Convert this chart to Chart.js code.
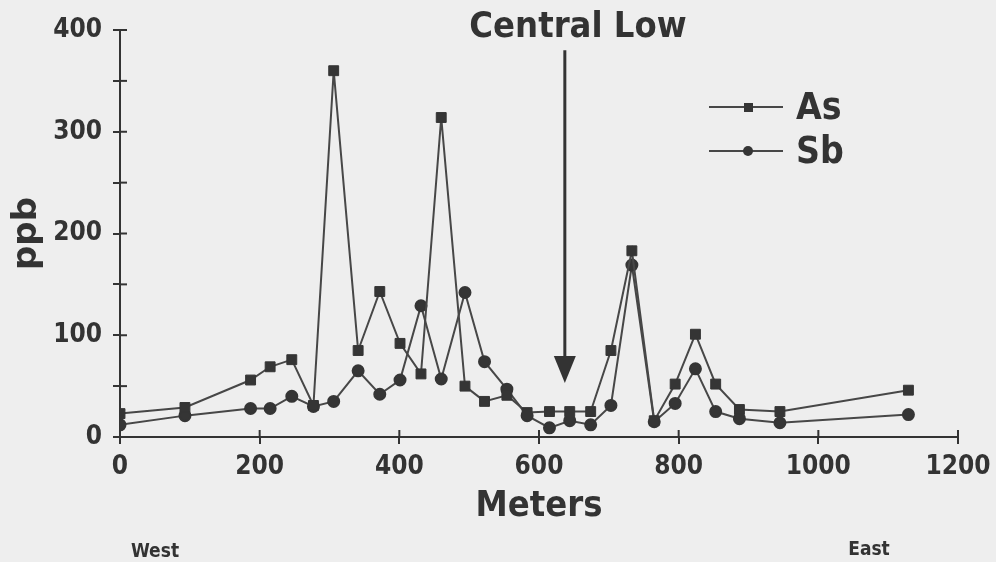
<!DOCTYPE html>
<html>
<head>
<meta charset="utf-8">
<script src="https://cdn.jsdelivr.net/npm/chart.js@4/dist/chart.umd.min.js"></script>
<style>
  body { margin: 0; background: #eeeeee; }
  canvas { display: block; }
</style>
</head>
<body>
<canvas id="canvas1" width="996" height="562"></canvas>
<script>
// positions along the line (m)
const meters = [0, 93, 187, 215, 246, 277, 306, 341, 372, 401, 431, 460, 494, 522, 554, 583, 615, 644, 674, 703, 733, 765, 795, 824, 853, 887, 945, 1129];
// ppb values
const asValues = [23, 29, 56, 69, 76, 31, 360, 85, 143, 92, 62, 314, 50, 35, 41, 24, 25, 25, 25, 85, 183, 16, 52, 101, 52, 27, 25, 46];
const sbValues = [12, 21, 28, 28, 40, 30, 35, 65, 42, 56, 129, 57, 142, 74, 47, 21, 9, 16, 12, 31, 169, 15, 33, 67, 25, 18, 14, 22];
const seriesNames = ['As', 'Sb'];

const ink = '#333333';
const FONT = '"DejaVu Sans Condensed", "DejaVu Sans", sans-serif';

function toPoints(values) {
    return meters.map((m, i) => ({ x: m, y: values[i] }));
}

// ticks crossing into the plot + annotation + legend
const extras = {
    id: 'extras',
    afterDraw(chart) {
        const ctx = chart.ctx;
        const xs = chart.scales.x;
        const ys = chart.scales.y;
        ctx.save();
        ctx.strokeStyle = ink;
        ctx.lineWidth = 2;
        // inner tick stubs
        ys.ticks.forEach(t => {
            let py = ys.getPixelForValue(t.value);
            ctx.beginPath();
            ctx.moveTo(xs.left, py);
            ctx.lineTo(xs.left + 7, py);
            ctx.stroke();
        });
        xs.ticks.forEach(t => {
            let px = xs.getPixelForValue(t.value);
            ctx.beginPath();
            ctx.moveTo(px, ys.bottom);
            ctx.lineTo(px, ys.bottom - 7);
            ctx.stroke();
        });

        // Central Low arrow
        let ax = xs.getPixelForValue(637);
        let top = ys.getPixelForValue(380);
        let tip = ys.getPixelForValue(53);
        ctx.lineWidth = 3;
        ctx.beginPath();
        ctx.moveTo(ax, top);
        ctx.lineTo(ax, tip - 20);
        ctx.stroke();
        ctx.fillStyle = ink;
        ctx.beginPath();
        ctx.moveTo(ax - 11, tip - 27);
        ctx.lineTo(ax + 11, tip - 27);
        ctx.lineTo(ax, tip);
        ctx.closePath();
        ctx.fill();

        ctx.font = 'bold 36px ' + FONT;
        ctx.textAlign = 'center';
        ctx.textBaseline = 'alphabetic';
        ctx.fillText('Central Low', 578, 37);

        // legend
        chart.data.datasets.forEach((ds, i) => {
            let ly = 107 + i * 44;
            ctx.strokeStyle = ds.borderColor;
            ctx.lineWidth = 2;
            ctx.beginPath();
            ctx.moveTo(709, ly);
            ctx.lineTo(783, ly);
            ctx.stroke();
            ctx.fillStyle = ds.pointBackgroundColor;
            if (ds.pointStyle === 'rect') {
                ctx.fillRect(744, ly - 4, 9, 9);
            } else {
                ctx.beginPath();
                ctx.arc(748, ly, 5, 0, Math.PI * 2);
                ctx.fill();
            }
            ctx.fillStyle = ink;
            ctx.font = 'bold 37px ' + FONT;
            ctx.textAlign = 'left';
            ctx.fillText(ds.label, 796, ly + 12);
        });

        // West / East
        ctx.font = 'bold 19px ' + FONT;
        ctx.textAlign = 'center';
        ctx.fillText('West', 155, 557);
        ctx.fillText('East', 869, 555);
        ctx.restore();
    }
};

let chartCtx = document.getElementById('canvas1').getContext('2d');

let chartConfig = {
    type: 'line',
    data: {
        datasets: [{
            label: seriesNames[0],
            data: toPoints(asValues),
            borderColor: '#474747',
            borderWidth: 2,
            pointStyle: 'rect',
            pointRadius: 7,
            pointBackgroundColor: '#353535',
            pointBorderColor: '#353535',
            pointBorderWidth: 1,
            tension: 0
        }, {
            label: seriesNames[1],
            data: toPoints(sbValues),
            borderColor: '#474747',
            borderWidth: 2,
            pointStyle: 'circle',
            pointRadius: 5.5,
            pointBackgroundColor: '#353535',
            pointBorderColor: '#353535',
            tension: 0
        }]
    },
    options: {
        responsive: false,
        animation: false,
        layout: { padding: { top: 30, right: 38, bottom: 0, left: 0 } },
        plugins: {
            legend: { display: false },
            tooltip: { enabled: false }
        },
        scales: {
            x: {
                type: 'linear',
                min: 0,
                max: 1200,
                afterFit(scale) {
                    scale.height = 125;
                    scale.paddingRight = 0;
                    scale.paddingLeft = 0;
                },
                border: { color: ink, width: 2 },
                grid: { drawOnChartArea: false, color: ink, lineWidth: 2, tickLength: 7 },
                ticks: {
                    stepSize: 200,
                    padding: 8,
                    color: ink,
                    maxRotation: 0,
                    font: { family: FONT, size: 26, weight: 'bold' },
                    callback: v => String(v)
                },
                title: {
                    display: true,
                    text: 'Meters',
                    color: ink,
                    padding: { top: 0, bottom: 34 },
                    font: { family: FONT, size: 36, weight: 'bold' }
                }
            },
            y: {
                min: 0,
                max: 400,
                afterFit(scale) { scale.width = 120; },
                border: { color: ink, width: 2 },
                grid: { drawOnChartArea: false, color: ink, lineWidth: 2, tickLength: 7 },
                ticks: {
                    stepSize: 50,
                    padding: 11,
                    color: ink,
                    font: { family: FONT, size: 26, weight: 'bold' },
                    callback: v => (v % 100 === 0 ? v : '')
                },
                title: {
                    display: true,
                    text: 'ppb',
                    color: ink,
                    padding: { top: 7, bottom: 0 },
                    font: { family: '"DejaVu Sans", sans-serif', size: 34, weight: 'bold' }
                }
            }
        }
    },
    plugins: [extras]
};

let mainChart = new Chart(chartCtx, chartConfig);
</script>
</body>
</html>
